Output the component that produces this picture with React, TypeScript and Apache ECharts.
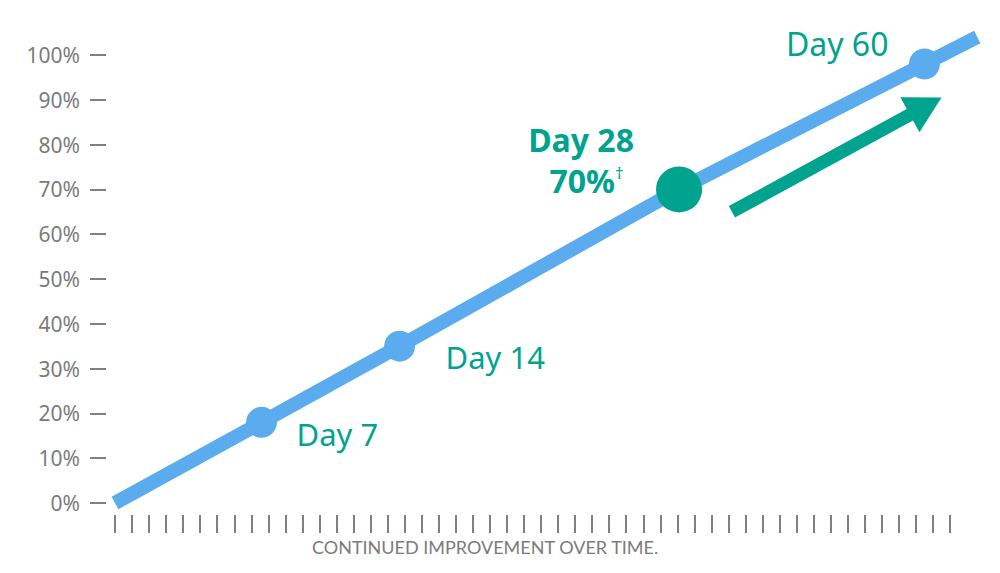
import React, { useEffect, useRef } from "react";
import * as echarts from "echarts";

// Progress stages along the time axis (x in tick units, y in percent)
const stageNames = ["", "Day 7", "Day 14", "Day 28", "Day 60", ""];
const timePos = [0, 8.6, 16.7, 33.1, 47.5, 50.6];
const percentValues = [0, 18, 35, 70, 98, 104];

// Axis ticks: percent ticks with labels, 50 unlabeled time ticks
const percentTicks = [0, 10, 20, 30, 40, 50, 60, 70, 80, 90, 100];
const timeTicks = Array.from({ length: 50 }, (_, i) => i);

// Plot extent (the trend line runs a little past the last ticks)
const timeMax = 51;
const percentMax = 105;

// Trend arrow (tail -> tip) in data units
const arrowFrom = [36.2, 65];
const arrowTo = [48.5, 90.5];

const BLUE = "#5aacee";
const GREEN = "#00a38e";
const GRAY = "#7b7b7b";
const FONT = "Noto Sans";

export default function App() {
  const ref = useRef<HTMLDivElement>(null);

  useEffect(() => {
    if (!ref.current) return;
    const chart = echarts.init(ref.current, undefined, { renderer: "svg" });

    const labelFor = (i: number): any => {
      const name = stageNames[i];
      if (!name) return { show: false };
      const base = {
        show: true,
        position: "inside",
        fontFamily: FONT,
        fontSize: 31,
        color: GREEN,
      };
      if (name === "Day 7") return { ...base, align: "left", verticalAlign: "middle", offset: [35, 12], formatter: name };
      if (name === "Day 14") return { ...base, align: "left", verticalAlign: "middle", offset: [46, 11], formatter: name };
      if (name === "Day 60") return { ...base, fontSize: 32, align: "right", verticalAlign: "middle", offset: [-36, -20], formatter: name };
      // Day 28 highlight with its value
      return {
        show: true,
        position: "inside",
        align: "center",
        verticalAlign: "middle",
        offset: [-98, -29],
        formatter: `{b|${name}}\n{p|${percentValues[i]}%}{s|†}`,
        rich: {
          b: { fontFamily: FONT, fontSize: 32, fontWeight: "bold", color: GREEN, lineHeight: 40 },
          p: { fontFamily: FONT, fontSize: 32, fontWeight: "bold", color: GREEN, lineHeight: 42, padding: [0, 0, 0, 11] },
          s: { fontFamily: FONT, fontSize: 17, color: GREEN, lineHeight: 17, verticalAlign: "top", padding: [5, 0, 0, 0] },
        },
      };
    };

    const data = timePos.map((x, i) => {
      const name = stageNames[i];
      const big = name === "Day 28";
      return {
        value: [x, percentValues[i]],
        symbol: name ? "circle" : "none",
        symbolSize: big ? 46 : 31,
        itemStyle: { color: big ? GREEN : BLUE },
        label: labelFor(i),
      };
    });

    // 0..49 spans 835px and 0..100 spans 448px
    const pxPerTime = 835 / 49;
    const pxPerPercent = 448 / 100;
    const gridLeft = 115;
    const gridBottom = 70;
    const gridWidth = timeMax * pxPerTime;
    const gridHeight = percentMax * pxPerPercent;

    chart.setOption({
      animation: false,
      backgroundColor: "#ffffff",
      title: {
        text: "CONTINUED IMPROVEMENT OVER TIME.",
        left: 312,
        top: 538,
        padding: 0,
        textStyle: { fontFamily: "Lato", fontSize: 18, fontWeight: "normal", color: GRAY },
      },
      grid: { left: gridLeft, width: gridWidth, bottom: gridBottom, height: gridHeight },
      xAxis: {
        type: "value",
        min: 0,
        max: timeMax,
        interval: 1,
        offset: 12,
        axisLine: { show: false, onZero: false },
        axisTick: {
          show: true,
          length: 18,
          customValues: timeTicks,
          lineStyle: { color: "#808080", width: 2 },
        },
        axisLabel: { show: false },
        splitLine: { show: false },
      },
      yAxis: {
        type: "value",
        min: 0,
        max: percentMax,
        interval: 10,
        offset: 9,
        axisLine: { show: false, onZero: false },
        axisTick: {
          show: true,
          length: 16,
          customValues: percentTicks,
          lineStyle: { color: "#808080", width: 2 },
        },
        axisLabel: {
          customValues: percentTicks,
          formatter: "{value}%",
          margin: 26,
          color: GRAY,
          fontFamily: FONT,
          fontSize: 21,
        },
        splitLine: { show: false },
      },
      series: [
        {
          type: "line",
          showAllSymbol: true,
          lineStyle: { color: BLUE, width: 14, cap: "butt" },
          itemStyle: { color: BLUE },
          z: 2,
          data,
        },
      ],
    });

    // Trend arrow built from data coordinates
    const p0 = chart.convertToPixel({ gridIndex: 0 }, arrowFrom) as number[];
    const p1 = chart.convertToPixel({ gridIndex: 0 }, arrowTo) as number[];
    const dx = p1[0] - p0[0];
    const dy = p1[1] - p0[1];
    const len = Math.hypot(dx, dy);
    const ux = dx / len, uy = dy / len;
    const nx = -uy, ny = ux;
    const shaft = 13 / 2, head = 40 / 2, headLen = 36;
    const bx = p1[0] - ux * headLen, by = p1[1] - uy * headLen;
    const points = [
      [p0[0] + nx * shaft, p0[1] + ny * shaft],
      [bx + nx * shaft, by + ny * shaft],
      [bx + nx * head, by + ny * head],
      [p1[0], p1[1]],
      [bx - nx * head, by - ny * head],
      [bx - nx * shaft, by - ny * shaft],
      [p0[0] - nx * shaft, p0[1] - ny * shaft],
    ];
    chart.setOption({
      graphic: [{ type: "polygon", shape: { points }, style: { fill: GREEN }, z: 10 }],
    });

    return () => chart.dispose();
  }, []);

  return (
    <div
      ref={ref}
      style={{ position: "absolute", left: 0, top: 0, width: 1000, height: 573 }}
    />
  );
}
